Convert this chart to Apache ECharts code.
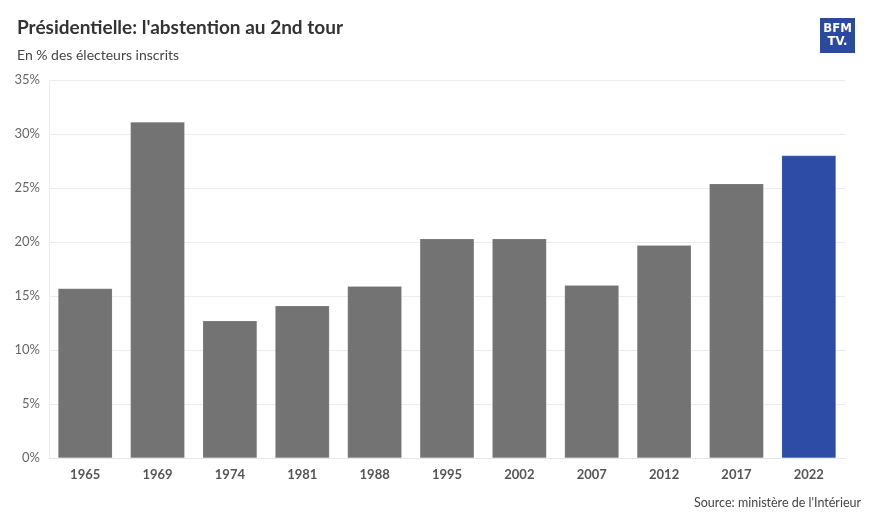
<!DOCTYPE html>
<html>
<head>
<meta charset="utf-8">
<script src="https://cdn.jsdelivr.net/npm/echarts@6/dist/echarts.min.js"></script>
<style>
  html, body { margin: 0; padding: 0; background: #fff; }
  #chart { width: 873px; height: 523px; }
</style>
</head>
<body>
<div id="chart"></div>
<script>
// années du 2nd tour
const years = ['1965', '1969', '1974', '1981', '1988', '1995', '2002', '2007', '2012', '2017', '2022']
// abstention en % des inscrits
const abstention = [15.7, 31.1, 12.7, 14.1, 15.9, 20.3, 20.3, 16.0, 19.7, 25.4, 28.0]
const yTicks = [0, 5, 10, 15, 20, 25, 30, 35]

const grey = '#737373'
const blue = '#2d4ca6'
const font = 'Lato, "Noto Sans", sans-serif'

const chart = echarts.init(document.getElementById('chart'))

const option = {
  animation: false,
  textStyle: { fontFamily: font },
  title: {
    text: "Présidentielle: l'abstention au 2nd tour",
    subtext: 'En % des électeurs inscrits',
    left: 12,
    top: 13,
    itemGap: 11,
    textStyle: { fontFamily: font, fontSize: 19, fontWeight: 'bold', color: '#333' },
    subtextStyle: { fontFamily: font, fontSize: 14, color: '#444' }
  },
  grid: { left: 49, right: 28, top: 80, bottom: 65 },
  xAxis: {
    type: 'category',
    data: years,
    axisLine: { lineStyle: { color: '#e6e6e6' } },
    axisTick: { alignWithLabel: true, length: 5, lineStyle: { color: '#e6e6e6' } },
    axisLabel: { color: '#555', fontSize: 13, fontWeight: 'bold', margin: 10, fontFamily: font }
  },
  yAxis: {
    type: 'value',
    min: yTicks[0],
    max: yTicks[yTicks.length - 1],
    interval: 5,
    axisLine: { show: true, lineStyle: { color: '#ececec' } },
    axisTick: { show: false },
    splitLine: { lineStyle: { color: '#ececec' } },
    axisLabel: { color: '#666', fontSize: 13, margin: 9, formatter: '{value}%', fontFamily: font }
  },
  series: [
    {
      type: 'bar',
      barWidth: '75%',
      data: abstention.map((v, i) => ({
        value: v,
        itemStyle: { color: i === abstention.length - 1 ? blue : grey }
      })),
      itemStyle: { borderColor: 'rgba(255,255,255,0.25)', borderWidth: 0.5 }
    }
  ],
  graphic: [
    {
      type: 'group',
      right: 18,
      top: 18,
      children: [
        { type: 'rect', shape: { x: 0, y: 0, width: 35, height: 35 }, style: { fill: '#2b4a9e' } },
        { type: 'text', x: 17.5, y: 4, style: { text: 'BFM', fill: '#fff', font: 'bold 13px "Liberation Sans Narrow", "DejaVu Sans Condensed", sans-serif', textAlign: 'center' } },
        { type: 'text', x: 17.5, y: 17, style: { text: 'TV.', fill: '#fff', font: 'bold 13px "Liberation Sans Narrow", "DejaVu Sans Condensed", sans-serif', textAlign: 'center' } }
      ]
    },
    {
      type: 'text',
      right: 12,
      top: 496,
      style: { text: "Source: ministère de l'Intérieur", fill: '#444', font: '12.5px ' + font }
    }
  ]
}

chart.setOption(option)
</script>
</body>
</html>
